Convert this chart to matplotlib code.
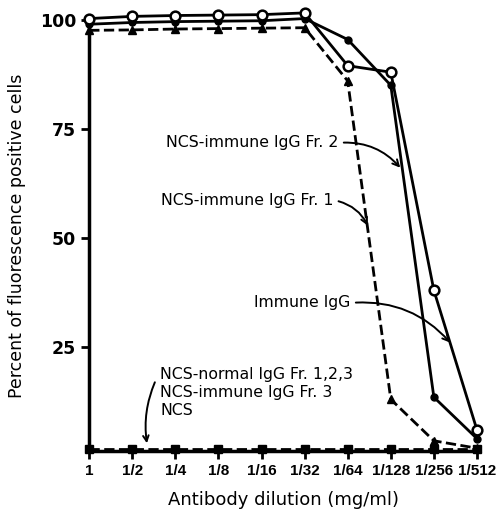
import matplotlib
matplotlib.use('Agg')
import matplotlib.pyplot as plt

plt.rcParams['font.family'] = ['DejaVu Sans']

# eixo x: diluições do anticorpo
dilutions = ['1', '1/2', '1/4', '1/8', '1/16', '1/32', '1/64', '1/128', '1/256', '1/512']
xpos = list(range(len(dilutions)))

# séries (% de células fluorescentes positivas)
immune_igg = [100.3, 100.8, 101.0, 101.1, 101.2, 101.6, 89.5, 88.0, 38.0, 6.0]
ncs_fr2 = [99.0, 99.4, 99.6, 99.7, 99.8, 100.3, 95.5, 85.0, 13.5, 4.0]
ncs_fr1 = [97.6, 97.7, 97.9, 98.0, 98.1, 98.2, 86.0, 13.0, 3.5, 1.8]
ncs_base = [1.6, 1.6, 1.6, 1.6, 1.6, 1.6, 1.6, 1.6, 1.6, 1.6]

fig = plt.figure(figsize=(5.01, 5.23), dpi=100)
ax = fig.add_axes([0.178, 0.138, 0.774, 0.824])

ax.plot(xpos, ncs_base, 'k--', lw=2, marker='s', ms=6, clip_on=False, zorder=3)
ax.plot(xpos, ncs_fr1, 'k--', lw=2, marker='^', ms=6, clip_on=False, zorder=4)
ax.plot(xpos, ncs_fr2, 'k-', lw=2, marker='o', ms=5, clip_on=False, zorder=5)
ax.plot(xpos, immune_igg, 'k-', lw=2, marker='o', ms=7, mfc='white', mew=1.8,
        clip_on=False, zorder=6)

ax.set_xlim(0, 9)
ax.set_ylim(1.2, 100)
ax.set_xticks(xpos)
ax.set_xticklabels(dilutions, fontsize=11, fontweight='bold',
                   family=['Liberation Sans', 'DejaVu Sans'])
ax.set_yticks([25, 50, 75, 100])
ax.set_yticklabels(['25', '50', '75', '100'], fontsize=12.5, fontweight='bold')
for s in ['top', 'right']:
    ax.spines[s].set_visible(False)
for s in ['left', 'bottom']:
    ax.spines[s].set_linewidth(2.5)
ax.tick_params(axis='both', direction='out', width=2, length=6)
ax.set_xlabel('Antibody dilution (mg/ml)', fontsize=13, labelpad=9)
ax.set_ylabel('Percent of fluorescence positive cells', fontsize=12.5, labelpad=10)

# rótulos com setas
arrow = dict(arrowstyle='->', lw=1.4, relpos=(1, 0.5),
             connectionstyle='arc3,rad=-0.25', shrinkA=2, shrinkB=0)
ax.annotate('NCS-immune IgG Fr. 2', xy=(7.22, 66.1), xytext=(5.78, 71.8),
            fontsize=11.3, ha='right', va='center', arrowprops=arrow)
ax.annotate('NCS-immune IgG Fr. 1', xy=(6.47, 52.8), xytext=(5.66, 58.7),
            fontsize=11.3, ha='right', va='center', arrowprops=arrow)
ax.annotate('Immune IgG', xy=(8.38, 26.0), xytext=(6.06, 35.1),
            fontsize=11.3, ha='right', va='center', arrowprops=arrow)
ax.text(1.65, 14.5, 'NCS-normal IgG Fr. 1,2,3\nNCS-immune IgG Fr. 3\nNCS',
        fontsize=11.3, ha='left', va='center', linespacing=1.25)
ax.annotate('', xy=(1.35, 2.3), xytext=(1.55, 17.5),
            arrowprops=dict(arrowstyle='->', lw=1.4, connectionstyle='arc3,rad=0.15'))

fig.savefig('out.png', dpi=100)
